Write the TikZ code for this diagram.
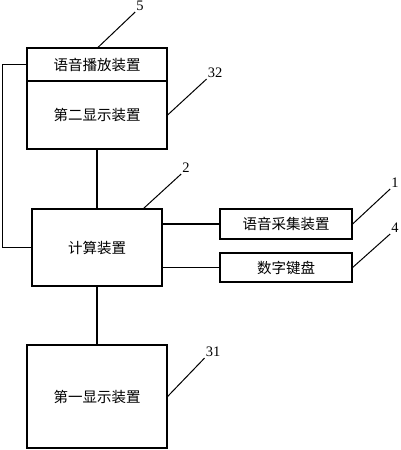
\documentclass[tikz,border=0pt]{standalone}
\usepackage{fontspec}
\setmainfont{Liberation Serif}
\newfontfamily\cjk{Noto Sans CJK SC}
\usepackage{tikz}
\usetikzlibrary{
  positioning,
  calc
}
\tikzset{
    unit/.style={draw, line width=1.2pt, rectangle, inner sep=0pt, align=center,
        font=\cjk\fontsize{14.5}{17}\selectfont},
    wire/.style={line width=1.2pt},
    leader/.style={line width=1pt},
    refnum/.style={inner sep=1pt, font=\fontsize{14.5}{16}\selectfont}
}

\begin{document}
\begin{tikzpicture}[x=1pt, y=-1pt]
            \useasboundingbox (0,0) rectangle (400,450);
            % blocks
            \node[unit, minimum width=140pt, minimum height=33pt] (play) at (97,64.5) {语音播放装置};
            \node[unit, minimum width=140pt, minimum height=68pt] (disp2) at (97,115) {第二显示装置};
            \node[unit, minimum width=130pt, minimum height=77pt] (calc) at (97,247.5) {计算装置};
            \node[unit, minimum width=132pt, minimum height=30pt] (voice) at (286,224) {语音采集装置};
            \node[unit, minimum width=132pt, minimum height=29pt] (keys) at (286,267.5) {数字键盘};
            \node[unit, minimum width=140pt, minimum height=103pt] (disp1) at (97,396.5) {第一显示装置};
            % connections
            \draw[wire] (disp2.south) -- (calc.north);
            \draw[wire] (calc.south) -- (disp1.north);
            \draw[wire] (calc.east |- voice.west) -- (voice.west);
            \draw[wire] (calc.east |- keys.west) -- (keys.west);
            \draw[wire] (play.west) -- ++(-24,0) |- (calc.west);
            % reference numbers
            \node[refnum] (n5) at (140,6) {5};
            \node[refnum] (n32) at (215,73) {32};
            \node[refnum] (n2) at (186,168) {2};
            \node[refnum] (n1) at (395,183) {1};
            \node[refnum] (n4) at (395,228) {4};
            \node[refnum] (n31) at (213,352) {31};
            \draw[leader] ([xshift=1pt]play.north) -- (n5.south west);
            \draw[leader] (disp2.east) -- (n32.south west);
            \draw[leader] ([xshift=-19pt]calc.north east) -- (n2.south west);
            \draw[leader] (voice.east) -- (n1.south west);
            \draw[leader] (keys.east) -- (n4.south west);
            \draw[leader] (disp1.east) -- (n31.south west);
        \end{tikzpicture}
\end{document}
